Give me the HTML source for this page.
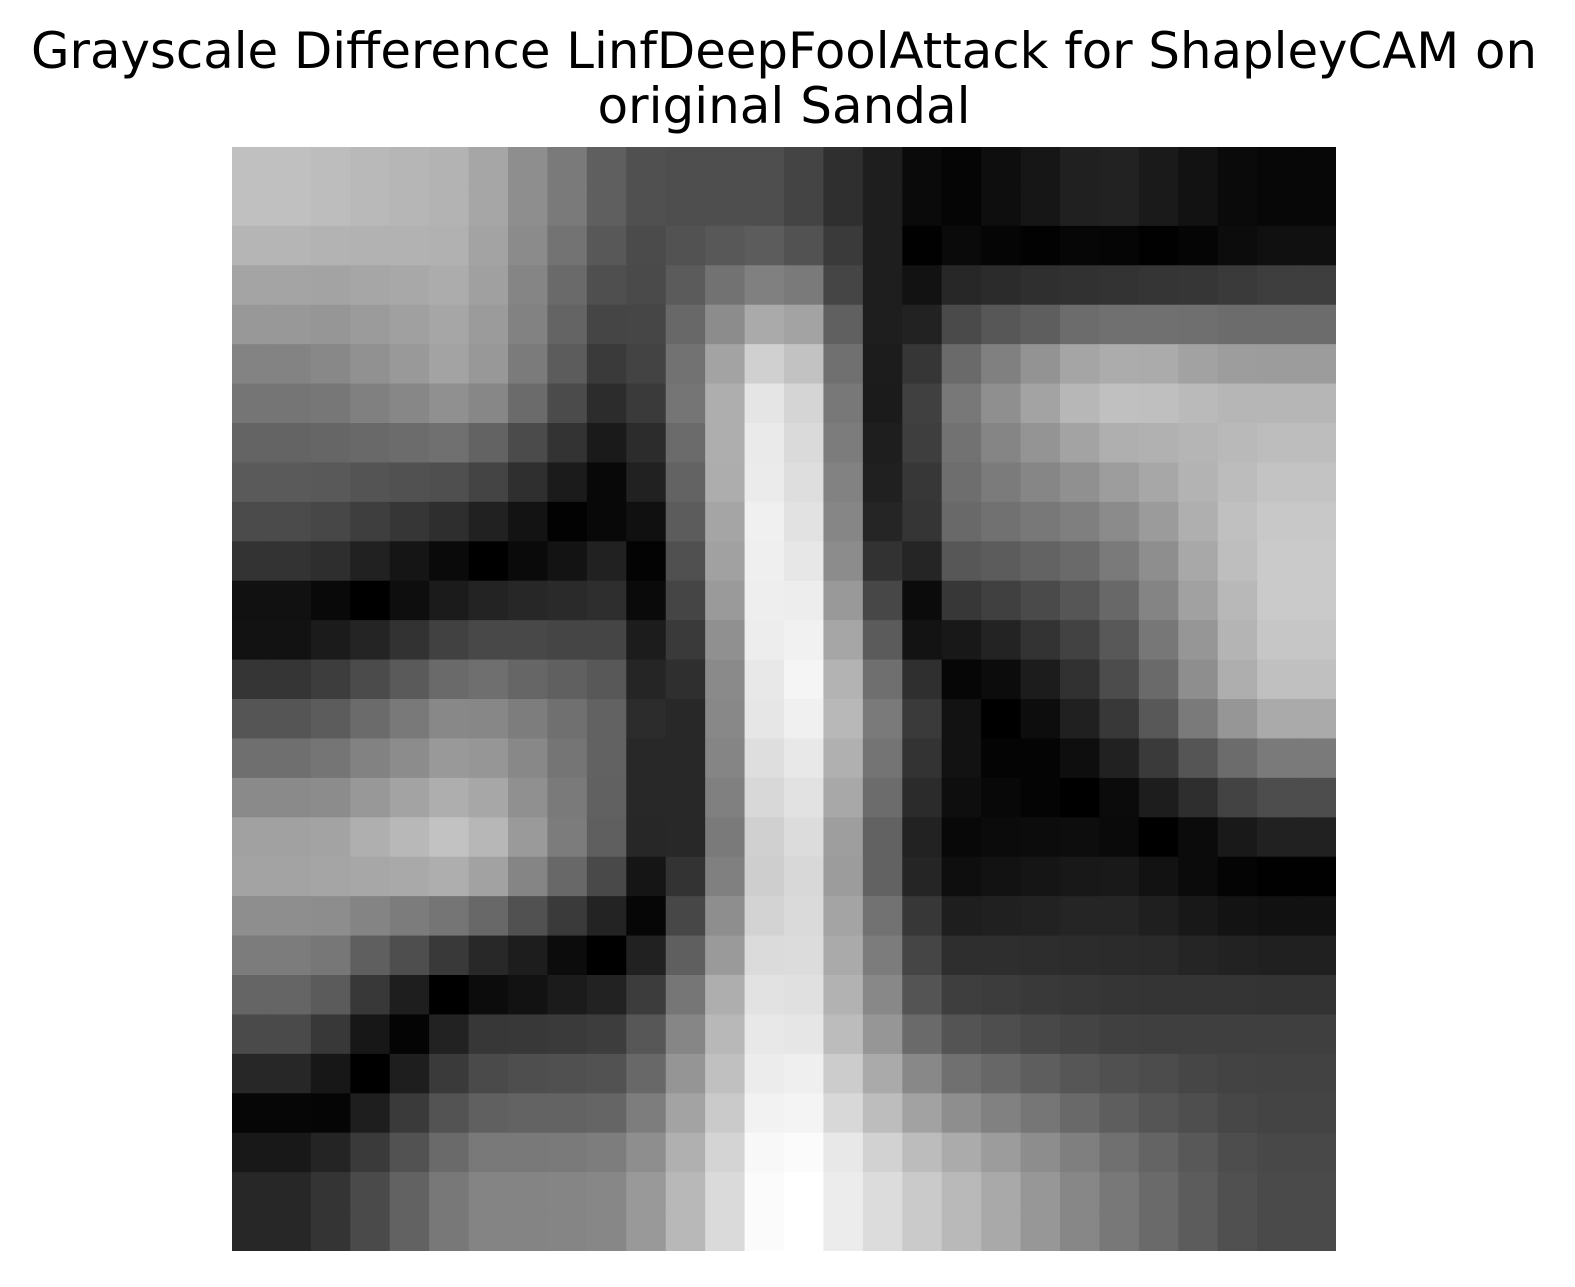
<!DOCTYPE html>
<html><head><meta charset="utf-8">
<style>
html,body{margin:0;padding:0;background:#fff;}
#wrap{position:relative;width:1575px;height:1287px;overflow:hidden;}
svg{display:block;}
</style></head>
<body>
<div id="wrap">
<svg id="chart" width="1575" height="1287" viewBox="0 0 1575 1287">
<text x="784" y="68" text-anchor="middle" font-family="DejaVu Sans, Liberation Sans, sans-serif" font-size="50" fill="#000" textLength="1506" lengthAdjust="spacingAndGlyphs">Grayscale Difference LinfDeepFoolAttack for ShapleyCAM on</text>
<text x="784" y="123" text-anchor="middle" font-family="DejaVu Sans, Liberation Sans, sans-serif" font-size="50" fill="#000">original Sandal</text>
<g id="cells"></g>
</svg>
</div>
<script>
// Grayscale intensity (0-255) per cell, row by row (28 x 28)
const row0  = [192,192,189,185,182,179,166,142,122,95,80,78,78,78, 68,47,30,10,5,14,22,32,34,26,18,10,7,7];
const row1  = [192,192,189,185,182,179,166,142,122,95,80,78,78,78, 68,47,30,10,5,14,22,32,34,26,18,10,7,7];
const row2  = [181,181,179,178,178,177,163,139,115,88,75,82,88,92, 82,58,30,1,10,5,2,6,5,1,5,12,16,16];
const row3  = [164,164,163,166,168,172,160,133,106,79,74,91,114,128, 122,69,30,18,39,43,47,49,51,53,54,58,62,62];
const row4  = [152,152,150,155,160,166,155,130,100,69,70,104,140,170, 163,96,30,34,74,87,94,108,112,112,111,108,108,108];
const row5  = [131,131,136,145,153,163,152,123,92,58,67,114,163,208, 194,112,28,54,106,128,147,165,172,171,162,157,156,156];
const row6  = [117,117,119,128,135,144,135,107,75,44,58,117,174,229, 213,120,27,64,120,143,163,183,192,191,186,182,182,182];
const row7  = [100,100,102,105,108,112,99,75,51,26,44,107,174,234, 218,124,30,62,114,133,148,163,175,177,181,185,189,189];
const row8  = [90,90,89,84,81,79,68,47,27,8,33,99,173,235, 222,130,32,55,110,123,134,144,157,167,179,188,195,195];
const row9  = [75,75,71,62,54,46,33,19,2,8,16,92,165,240, 226,134,37,53,105,113,120,127,139,155,175,192,200,200];
const row10 = [51,51,46,33,21,10,0,10,19,33,3,80,161,239, 231,140,50,37,87,92,99,106,122,142,168,190,202,202];
const row11 = [17,17,9,0,14,27,35,39,42,46,10,69,154,238, 237,153,71,11,55,64,74,86,104,132,161,184,202,202];
const row12 = [18,18,27,36,50,65,72,72,69,69,28,58,144,237, 241,166,91,19,24,35,51,66,88,119,150,180,198,198];
const row13 = [53,53,61,75,90,106,111,102,96,88,37,47,138,232, 245,179,111,47,6,12,28,49,76,106,142,174,192,192];
const row14 = [85,85,92,107,121,136,135,125,112,98,44,40,136,230, 240,184,122,58,18,0,13,32,56,88,122,150,170,170];
const row15 = [111,111,117,130,140,153,150,136,117,98,40,40,133,222, 232,176,116,51,18,4,4,14,33,58,85,108,122,122];
const row16 = [138,138,140,152,163,174,167,144,122,97,40,40,128,216, 226,168,108,43,14,8,4,0,11,29,46,67,77,77];
const row17 = [161,161,163,175,184,194,183,154,124,95,39,40,122,208, 220,158,98,34,8,11,12,13,10,0,11,25,33,33];
const row18 = [163,163,165,167,169,174,162,133,104,73,21,51,128,206, 216,156,98,37,14,18,21,24,25,18,11,4,1,1];
const row19 = [142,142,141,132,124,117,104,81,58,35,6,71,142,211, 218,164,114,55,30,32,34,37,37,31,24,19,17,17];
const row20 = [124,124,119,95,78,57,40,29,12,0,33,95,154,219, 220,170,124,69,46,46,45,44,43,42,37,34,32,32];
const row21 = [101,101,91,56,30,0,12,18,27,34,60,118,174,226, 224,178,136,84,62,60,57,55,53,52,52,52,51,51];
const row22 = [74,74,56,23,4,34,55,56,58,61,87,134,184,232, 230,188,150,106,84,78,72,68,64,63,63,63,63,63];
const row23 = [39,39,23,0,30,58,74,78,80,82,104,149,192,236, 239,204,170,136,112,103,94,86,80,76,70,67,66,66];
const row24 = [6,6,5,30,58,83,96,99,99,101,125,163,202,242, 244,216,189,162,142,129,118,105,94,85,78,71,68,68];
const row25 = [24,24,36,58,82,106,121,121,122,125,142,176,212,248, 251,232,210,188,171,156,141,127,112,100,88,77,72,72];
const row26 = [39,39,52,74,98,120,132,132,133,135,153,184,218,251, 255,236,220,202,185,169,151,135,120,106,92,80,74,74];
const row27 = [39,39,52,74,98,120,132,132,133,135,153,184,218,251, 255,236,220,202,185,169,151,135,120,106,92,80,74,74];
const grid = [row0,row1,row2,row3,row4,row5,row6,row7,row8,row9,row10,row11,row12,row13,
              row14,row15,row16,row17,row18,row19,row20,row21,row22,row23,row24,row25,row26,row27];

const X0 = 232, Y0 = 147, SIZE = 1104;
const nRows = grid.length, nCols = grid[0].length;
function xScale(c){ return X0 + c * SIZE / nCols; }
function yScale(r){ return Y0 + r * SIZE / nRows; }
function color(v){ const g = Math.max(0, Math.min(255, Math.round(v))); return 'rgb(' + g + ',' + g + ',' + g + ')'; }

const NS = 'http://www.w3.org/2000/svg';
const g = document.getElementById('cells');
for (let r = 0; r < nRows; r++) {
  for (let c = 0; c < nCols; c++) {
    const rect = document.createElementNS(NS, 'rect');
    const x1 = xScale(c), x2 = xScale(c + 1), y1 = yScale(r), y2 = yScale(r + 1);
    const wAdd = (c === nCols - 1) ? 0 : 0.6;
    const hAdd = (r === nRows - 1) ? 0 : 0.6;
    rect.setAttribute('x', x1.toFixed(2));
    rect.setAttribute('y', y1.toFixed(2));
    rect.setAttribute('width', (x2 - x1 + wAdd).toFixed(2));
    rect.setAttribute('height', (y2 - y1 + hAdd).toFixed(2));
    rect.setAttribute('fill', color(grid[r][c]));
    
    
    g.appendChild(rect);
  }
}
</script>
</body></html>
